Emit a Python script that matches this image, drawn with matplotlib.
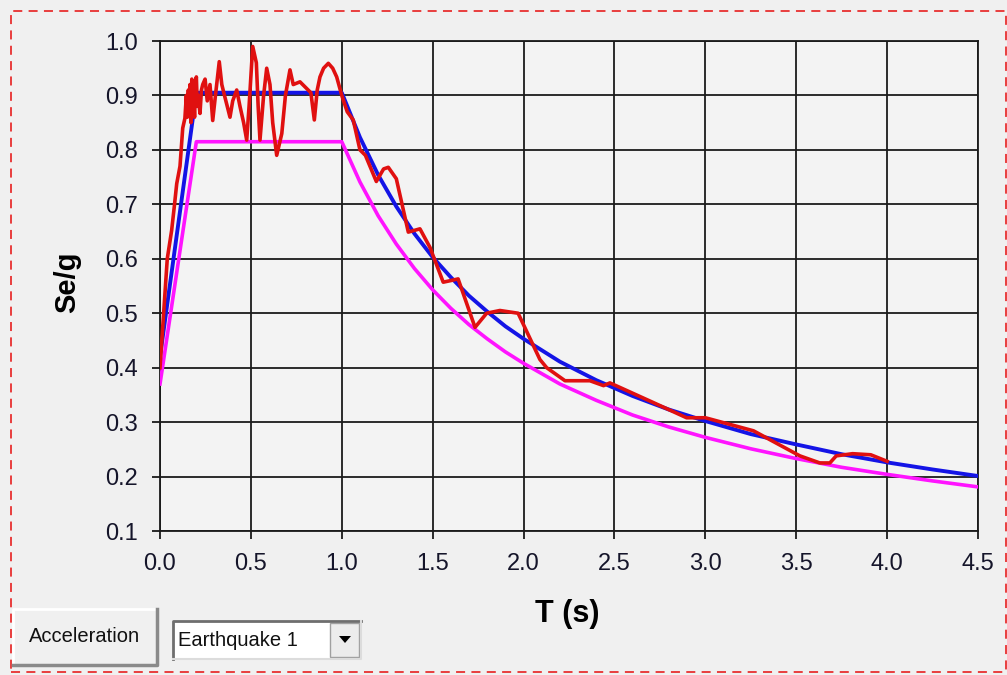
import matplotlib
matplotlib.use('Agg')
import matplotlib.pyplot as plt
from matplotlib.patches import Rectangle, Polygon
from matplotlib.lines import Line2D

plt.rcParams['font.family'] = ['Liberation Sans', 'DejaVu Sans']

# design spectrum (blue)
t_blue = [0.0, 0.2, 1.0, 1.1, 1.2, 1.3, 1.4, 1.5, 1.6, 1.7, 1.8, 1.9, 2.0,
          2.2, 2.4, 2.6, 2.8, 3.0, 3.25, 3.5, 3.75, 4.0, 4.25, 4.5]
se_blue = [0.42, 0.905, 0.905, 0.823, 0.754, 0.696, 0.646, 0.603, 0.566, 0.532,
           0.503, 0.476, 0.453, 0.411, 0.377, 0.348, 0.323, 0.302, 0.278, 0.259,
           0.241, 0.226, 0.213, 0.201]

# reduced spectrum (magenta)
t_pink = t_blue
se_pink = [0.37, 0.815, 0.815, 0.741, 0.679, 0.627, 0.582, 0.543, 0.509, 0.479,
           0.453, 0.429, 0.408, 0.370, 0.340, 0.313, 0.291, 0.272, 0.251, 0.233,
           0.217, 0.204, 0.192, 0.181]

# earthquake 1 spectrum (red)
t_eq = [0.0, 0.02, 0.04, 0.064, 0.08, 0.092, 0.11, 0.125, 0.137, 0.145, 0.15,
        0.156, 0.16, 0.165, 0.17, 0.175, 0.18, 0.185, 0.19, 0.195, 0.2, 0.205,
        0.21, 0.22, 0.228, 0.235, 0.248, 0.26, 0.275, 0.29,
        0.305, 0.326, 0.34, 0.357, 0.37, 0.385, 0.4, 0.422, 0.44, 0.46, 0.477,
        0.49, 0.51, 0.53, 0.54, 0.55, 0.57, 0.587, 0.605, 0.62, 0.642, 0.67,
        0.69, 0.715, 0.733, 0.77, 0.8, 0.83, 0.849, 0.865, 0.88, 0.9, 0.926,
        0.95, 0.972, 1.0, 1.03, 1.063, 1.1, 1.13, 1.19, 1.23, 1.256, 1.3,
        1.366, 1.43, 1.485, 1.558, 1.6, 1.64, 1.733, 1.797, 1.87, 1.97, 2.09,
        2.127, 2.228, 2.365, 2.44, 2.475, 2.7, 2.897, 3.0, 3.265, 3.52, 3.63,
        3.685, 3.72, 3.81, 3.91, 4.0]
se_eq = [0.40, 0.5, 0.6, 0.652, 0.7, 0.738, 0.77, 0.84, 0.858, 0.9, 0.86,
         0.91, 0.87, 0.92, 0.85, 0.93, 0.87, 0.9, 0.86, 0.92, 0.934, 0.88,
         0.9, 0.867, 0.91, 0.92, 0.93, 0.89, 0.92, 0.854,
         0.9, 0.962, 0.92, 0.897, 0.88, 0.86, 0.89, 0.91, 0.88, 0.85, 0.818,
         0.88, 0.99, 0.96, 0.88, 0.818, 0.9, 0.95, 0.92, 0.85, 0.79, 0.83,
         0.9, 0.947, 0.92, 0.925, 0.915, 0.905, 0.855, 0.91, 0.934, 0.95, 0.959,
         0.95, 0.934, 0.9, 0.87, 0.855, 0.80, 0.79, 0.742, 0.765, 0.768, 0.747,
         0.649, 0.655, 0.621, 0.557, 0.56, 0.563, 0.474, 0.50, 0.505, 0.50, 0.415,
         0.40, 0.376, 0.376, 0.367, 0.372, 0.338, 0.308, 0.308, 0.284, 0.238, 0.225,
         0.225, 0.238, 0.242, 0.24, 0.228]

x_ticks = [0.0, 0.5, 1.0, 1.5, 2.0, 2.5, 3.0, 3.5, 4.0, 4.5]
y_ticks = [0.1, 0.2, 0.3, 0.4, 0.5, 0.6, 0.7, 0.8, 0.9, 1.0]

W, H = 1007, 675
bg = '#f0f0f0'

fig = plt.figure(figsize=(W / 100, H / 100), dpi=100, facecolor=bg)


def fx(x):
    return x / W


def fy(y):
    return 1 - y / H


ax = fig.add_axes([fx(160), fy(531), fx(978) - fx(160), fy(41) - fy(531)])
ax.set_facecolor('#f3f3f3')

ax.plot(t_blue, se_blue, color='#1414e6', lw=2.8, zorder=3)
ax.plot(t_pink, se_pink, color='#ff14ff', lw=2.6, zorder=3)
ax.plot(t_eq, se_eq, color='#e01010', lw=2.6, zorder=4)

ax.set_xlim(0, 4.5)
ax.set_ylim(0.1, 1.0)
ax.set_xticks(x_ticks)
ax.set_yticks(y_ticks)
ax.set_xticklabels(['%.1f' % v for v in x_ticks])
ax.set_yticklabels(['%.1f' % v for v in y_ticks])
ax.grid(True, color='#1a1a1a', lw=1.3, zorder=1)
ax.set_axisbelow(True)
for s in ax.spines.values():
    s.set_color('#1a1a1a')
    s.set_linewidth(1.3)
ax.tick_params(direction='out', length=6, width=1.3, color='#1a1a1a',
               labelsize=17, labelcolor='#15152a', pad=10)

fig.text(fx(67), fy(282), 'Se/g', rotation=90, fontsize=21, fontweight='bold',
         ha='center', va='center')
fig.text(fx(567), fy(614), 'T (s)', fontsize=22, fontweight='bold',
         ha='center', va='center')

# "Acceleration" button
x0, y0, x1, y1 = 13, 609, 157, 665
fig.add_artist(Rectangle((fx(x0), fy(y1)), fx(x1 - x0), (y1 - y0) / H,
                         transform=fig.transFigure, facecolor='#f0f0f0',
                         edgecolor='none'))
fig.add_artist(Line2D([fx(x0), fx(x0), fx(x1)], [fy(y1), fy(y0), fy(y0)],
                      transform=fig.transFigure, color='white', lw=2))
fig.add_artist(Line2D([fx(x0), fx(x1), fx(x1)], [fy(y1), fy(y1), fy(y0)],
                      transform=fig.transFigure, color='#8a8a8a', lw=2.5))
fig.text(fx((x0 + x1) / 2), fy(637), 'Acceleration', fontsize=14.5,
         ha='center', va='center', color='#111111')

# "Earthquake 1" combo box
c0, d0, c1, d1 = 173, 621, 361, 659
fig.add_artist(Rectangle((fx(c0), fy(d1)), fx(c1 - c0), (d1 - d0) / H,
                         transform=fig.transFigure, facecolor='white',
                         edgecolor='none'))
fig.add_artist(Line2D([fx(c0), fx(c0), fx(c1)], [fy(d1), fy(d0), fy(d0)],
                      transform=fig.transFigure, color='#6e6e6e', lw=2))
fig.add_artist(Line2D([fx(c0), fx(c1), fx(c1)], [fy(d1), fy(d1), fy(d0)],
                      transform=fig.transFigure, color='#dcdcdc', lw=1.5))
fig.add_artist(Rectangle((fx(330), fy(657)), fx(29), 34 / H,
                         transform=fig.transFigure, facecolor='#ececec',
                         edgecolor='#a0a0a0', lw=1))
fig.add_artist(Polygon([[fx(339), fy(636)], [fx(351), fy(636)], [fx(345), fy(643)]],
                       closed=True, transform=fig.transFigure, facecolor='black',
                       edgecolor='none'))
fig.text(fx(178), fy(640), 'Earthquake 1', fontsize=14.5, ha='left',
         va='center', color='#111111')

# red dashed frame
fig.add_artist(Rectangle((fx(11), fy(672)), fx(995), 661 / H,
                         transform=fig.transFigure, facecolor='none',
                         edgecolor='#e83030', lw=1.3, ls=(0, (5, 3.5))))

fig.savefig('out.png', dpi=100, facecolor=bg)
